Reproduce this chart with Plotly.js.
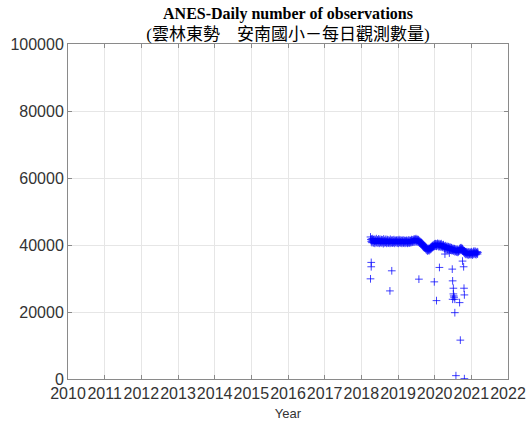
<!DOCTYPE html>
<html>
<head>
<meta charset="utf-8">
<script src="https://cdn.plot.ly/plotly-3.0.1.min.js"></script>
<style>html,body{margin:0;padding:0;background:#fff;}</style>
</head>
<body>
<div id="chart" style="width:529px;height:423px;"></div>
<script>
// Daily observation counts (main band), x in decimal years
const bandYears = [
2018.25,2018.26,2018.27,2018.28,2018.29,2018.30,2018.31,2018.32,2018.33,2018.34,
2018.35,2018.36,2018.37,2018.38,2018.39,2018.40,2018.41,2018.42,2018.43,2018.44,
2018.45,2018.46,2018.47,2018.48,2018.49,2018.50,2018.51,2018.52,2018.53,2018.54,
2018.55,2018.56,2018.57,2018.58,2018.59,2018.60,2018.61,2018.62,2018.63,2018.64,
2018.65,2018.66,2018.67,2018.68,2018.69,2018.70,2018.71,2018.72,2018.73,2018.74,
2018.75,2018.76,2018.77,2018.78,2018.79,2018.80,2018.81,2018.82,2018.83,2018.84,
2018.85,2018.86,2018.87,2018.88,2018.89,2018.90,2018.91,2018.92,2018.93,2018.94,
2018.95,2018.96,2018.97,2018.98,2018.99,2019.00,2019.01,2019.02,2019.03,2019.04,
2019.05,2019.06,2019.07,2019.08,2019.09,2019.10,2019.11,2019.12,2019.13,2019.14,
2019.15,2019.16,2019.17,2019.18,2019.19,2019.20,2019.21,2019.22,2019.23,2019.24,
2019.25,2019.26,2019.27,2019.28,2019.29,2019.30,2019.31,2019.32,2019.33,2019.34,
2019.35,2019.36,2019.37,2019.38,2019.39,2019.40,2019.41,2019.42,2019.43,2019.44,
2019.45,2019.46,2019.47,2019.48,2019.49,2019.50,2019.51,2019.52,2019.53,2019.54,
2019.55,2019.56,2019.57,2019.58,2019.59,2019.60,2019.61,2019.62,2019.63,2019.64,
2019.65,2019.66,2019.67,2019.68,2019.69,2019.70,2019.71,2019.72,2019.73,2019.74,
2019.75,2019.76,2019.77,2019.78,2019.79,2019.80,2019.81,2019.82,2019.83,2019.84,
2019.85,2019.86,2019.87,2019.88,2019.89,2019.90,2019.91,2019.92,2019.93,2019.94,
2019.95,2019.96,2019.97,2019.98,2019.99,2020.00,2020.01,2020.02,2020.03,2020.04,
2020.05,2020.06,2020.07,2020.08,2020.09,2020.10,2020.11,2020.12,2020.13,2020.14,
2020.15,2020.16,2020.17,2020.18,2020.19,2020.20,2020.21,2020.22,2020.23,2020.24,
2020.25,2020.26,2020.27,2020.28,2020.29,2020.30,2020.31,2020.32,2020.33,2020.34,
2020.35,2020.36,2020.37,2020.38,2020.39,2020.40,2020.41,2020.42,2020.43,2020.44,
2020.45,2020.46,2020.47,2020.48,2020.49,2020.50,2020.51,2020.52,2020.53,2020.54,
2020.55,2020.56,2020.57,2020.58,2020.59,2020.60,2020.61,2020.62,2020.63,2020.64,
2020.65,2020.66,2020.67,2020.68,2020.69,2020.70,2020.71,2020.72,2020.73,2020.74,
2020.75,2020.76,2020.77,2020.78,2020.79,2020.80,2020.81,2020.82,2020.83,2020.84,
2020.85,2020.86,2020.87,2020.88,2020.89,2020.90,2020.91,2020.92,2020.93,2020.94,
2020.95,2020.96,2020.97,2020.98,2020.99,2021.00,2021.01,2021.02,2021.03,2021.04,
2021.05,2021.06,2021.07,2021.08,2021.09,2021.10,2021.11,2021.12,2021.13,2021.14,
2021.15,2021.16,2021.17,2021.18
];
const bandCounts = [
42400,41600,41000,41800,40700,41300,41900,40900,41500,40600,
41700,41100,40500,41600,41200,40800,41900,41000,40600,41500,
41300,40700,41800,41000,40500,41400,41700,40800,41200,40600,
41600,41000,40700,41500,41100,40400,41800,40900,41300,40600,
41400,40800,41700,41000,40500,41300,41600,40700,41100,40600,
41500,40900,41200,40500,41700,41000,40600,41400,40800,41300,
40600,41500,41000,40700,41600,41100,40500,41300,40900,41400,
40700,41200,41500,40600,41000,41400,40500,41100,41600,40800,
41300,40600,41000,41500,40700,41200,40500,41400,40900,41100,
40600,41500,40800,41200,40500,41300,41000,40600,41400,40900,
41200,40500,41000,41500,40700,41100,40600,41400,40800,41300,
40700,41200,41600,40800,41000,41500,40900,41300,41700,40900,
41400,41800,41000,41500,41900,41100,41600,40900,41400,41700,
41000,41500,40800,41300,40600,41100,40500,40900,40300,40700,
40100,40500,39800,40200,39600,40000,39300,39700,39100,39500,
38900,39400,38600,39100,38400,38900,38200,38800,38500,39000,
38300,38900,38600,39200,38700,39400,38900,39600,39200,39800,
39300,39900,39500,40100,39600,40300,39800,40400,39700,40200,
39600,40300,39800,40500,39900,40200,39500,40400,39700,40100,
39400,40200,39800,40400,39500,40000,39300,39900,39600,40100,
39200,39700,38900,39500,39100,39800,38800,39400,39000,39600,
38700,39300,38900,39500,38600,39200,38800,39400,38500,39100,
38600,39200,38300,38900,38500,39000,38200,38800,38400,38900,
38000,38600,38200,38800,37900,38500,38100,38700,37800,38400,
38000,38600,38200,38900,38400,39100,38600,39200,38700,39000,
38500,38900,38200,38600,37900,38300,37600,38100,37400,37900,
37200,37800,37400,38000,37100,37700,37300,37900,37000,37600,
37300,37900,37100,37700,37400,38000,37200,37800,37000,37600,
37400,38100,37200,37800,37500,38200,37300,37900,37100,37700,
37500,38000,37300,37800
];
// Low-count days (outliers)
const outlierYears = [
2018.27,2018.27,2018.25,2018.83,2018.78,2019.57,2019.99,2020.05,2020.13,2020.48,
2020.49,2020.51,2020.51,2020.52,2020.53,2020.49,2020.55,2020.55,2020.68,2020.70,
2020.58,2020.81,2020.76,2020.79,2020.80,2020.81,2020.28,2020.40
];
const outlierCounts = [
34800,33500,29900,32300,26300,29800,29000,23400,33300,32800,
29300,27100,25400,24800,24400,23800,23800,19800,22800,11600,
1000,100,35200,33500,27100,25100,37300,37600
];
const xTickVals = [2010,2011,2012,2013,2014,2015,2016,2017,2018,2019,2020,2021,2022];
const xTickText = ['2010','2011','2012','2013','2014','2015','2016','2017','2018','2019','2020','2021','2022'];
const yTickVals = [0,20000,40000,60000,80000,100000];
const yTickText = ['0','20000','40000','60000','80000','100000'];

const blue = 'rgba(0,0,255,0.75)';
const markerStyle = {symbol:'cross-thin-open', size:5.5, color:blue, line:{color:blue, width:1}};

const traces = [
  {x: bandYears, y: bandCounts, type:'scatter', mode:'markers', marker: markerStyle, hoverinfo:'x+y'},
  {x: outlierYears, y: outlierCounts, type:'scatter', mode:'markers', marker: markerStyle, hoverinfo:'x+y'}
];

const axisCommon = {
  showline:true, linecolor:'#8a8a8a', linewidth:1, mirror:'ticks',
  ticks:'inside', ticklen:4, tickcolor:'#8a8a8a',
  showgrid:true, gridcolor:'#e6e6e6', gridwidth:1, zeroline:false,
  tickfont:{family:'"Liberation Sans", Arial, sans-serif', size:16, color:'#333333'}
};

const layout = {
  width:529, height:423,
  margin:{l:68, r:21, t:44, b:44},
  paper_bgcolor:'#ffffff', plot_bgcolor:'#ffffff',
  showlegend:false,
  title:{
    text:'<b>ANES-Daily number of observations</b><br><span style="font-size:17px">(雲林東勢　安南國小－每日觀測數量)</span>',
    font:{family:'"Liberation Serif", "Noto Sans CJK TC", serif', size:16, color:'#000000'},
    x:0.5, xref:'paper', xanchor:'center',
    y:1-19/423, yref:'container', yanchor:'top'
  },
  xaxis: Object.assign({}, axisCommon, {
    range:[2010,2022], tickmode:'array', tickvals:xTickVals, ticktext:xTickText, tickangle:0,
    title:{text:'Year', font:{family:'"Liberation Sans", Arial, sans-serif', size:13, color:'#333333'}, standoff:7}
  }),
  yaxis: Object.assign({}, axisCommon, {
    range:[0,100000], tickmode:'array', tickvals:yTickVals, ticktext:yTickText
  })
};

Plotly.newPlot('chart', traces, layout, {displayModeBar:false, staticPlot:true});
</script>
</body>
</html>
